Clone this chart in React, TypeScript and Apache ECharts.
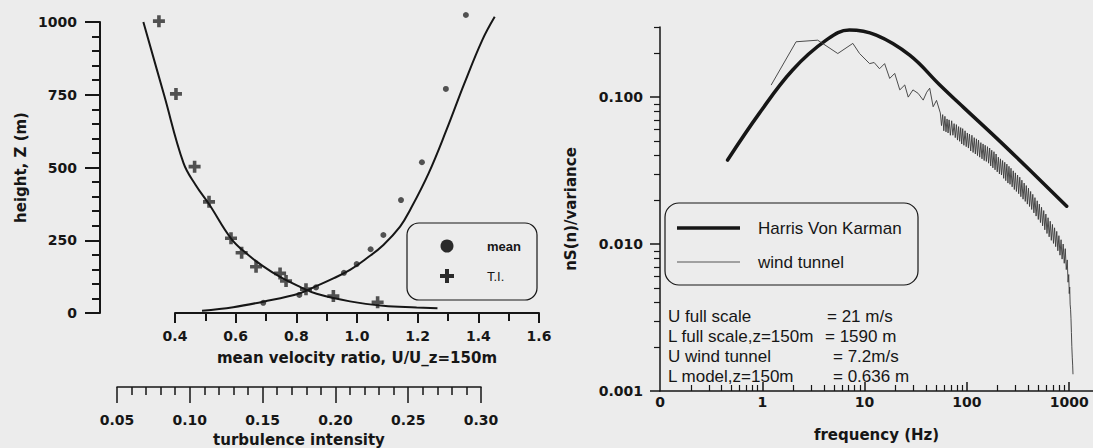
import React, { useEffect, useRef } from 'react';
import * as echarts from 'echarts';

// ---------- Left panel data ----------
// mean velocity ratio measurements (U/U_z=150m) vs height (m)
const meanU = [0.691, 0.81, 0.865, 0.957, 0.999, 1.045, 1.087, 1.145, 1.214, 1.293, 1.359];
const meanZ = [35, 62, 88, 138, 168, 219, 268, 388, 518, 770, 1024];
// turbulence intensity measurements vs height (m)
const tiVal = [0.0788, 0.0905, 0.1033, 0.1132, 0.1283, 0.1356, 0.1455, 0.162, 0.1661, 0.1798, 0.1986, 0.229];
const tiZ = [1003, 753, 503, 382, 257, 207, 159, 136, 110, 82, 58, 37];
// fitted mean velocity profile
const meanFitU = [0.489, 0.592, 0.691, 0.812, 0.867, 0.922, 0.977, 1.032, 1.087, 1.142, 1.175, 1.236, 1.295, 1.354, 1.413, 1.454];
const meanFitZ = [8, 20, 39, 68, 93, 119, 148, 188, 234, 297, 354, 480, 629, 789, 938, 1018];
// fitted turbulence intensity profile
const tiFitT = [0.0681, 0.0823, 0.0957, 0.104, 0.1135, 0.1285, 0.14, 0.15, 0.162, 0.1757, 0.1871, 0.21, 0.2329, 0.2558, 0.2701];
const tiFitZ = [1000, 750, 515, 440, 372, 255, 200, 162, 124, 90, 66, 40, 25, 19, 16];

const heightTicks = [0, 250, 500, 750, 1000];

// ---------- Right panel data ----------
const harrisF = [0.458, 0.934, 1.98, 4.21, 7.1, 13.0, 27.6, 54.4, 92.1, 195, 414, 946];
const harrisV = [0.0373, 0.0775, 0.153, 0.244, 0.286, 0.264, 0.193, 0.121, 0.0855, 0.0526, 0.0318, 0.0181];

const tunnelF = [
  1.22, 2.14, 3.48, 5.47, 7.68, 8.93, 11.2, 12.4, 14.0, 15.7, 17.6, 19.7, 22.1, 24.7, 26.7, 29.7, 33.4, 37.4, 40.5, 43.3, 46.8, 50.5,
  55, 56.5, 58, 59.5, 61, 62.5, 64, 65.5, 67, 69, 71, 73, 75, 77, 79, 81, 83, 85, 87, 89, 91, 93.5, 96, 98.5, 101, 103.5, 106, 109,
  112, 115, 118, 121, 124, 127, 130, 133.5, 137, 140.5, 144, 147.5, 151, 155, 159, 163, 167, 171, 175, 179.5, 184, 188.5, 193, 198,
  203, 208, 213, 218, 223.5, 229, 234.5, 240, 246, 252, 258, 264, 270, 277, 284, 291, 298, 305, 313, 321, 329, 337, 345, 354, 363,
  372, 381, 390, 400, 410, 420, 430, 441, 452, 463, 475, 487, 499, 511, 524, 537, 550, 564, 578, 592, 607, 622, 637, 653, 669, 686,
  703, 720, 738, 756, 775, 794, 813, 833, 853, 874, 895, 916, 937, 958, 975, 990, 1002, 1012, 1022, 1032, 1042, 1052, 1062, 1072,
  1082, 1090,
];
const tunnelV = [
  0.1207, 0.238, 0.244, 0.198, 0.232, 0.198, 0.169, 0.172, 0.156, 0.169, 0.134, 0.145, 0.112, 0.121, 0.1, 0.112, 0.106, 0.0954, 0.108, 0.115, 0.086, 0.095,
  0.078, 0.064, 0.076, 0.059, 0.074, 0.058, 0.071, 0.057, 0.07, 0.055, 0.069, 0.055, 0.066, 0.053, 0.065, 0.051, 0.063, 0.05, 0.062, 0.048, 0.061, 0.047, 0.059, 0.046, 0.057, 0.045, 0.056, 0.043,
  0.055, 0.042, 0.053, 0.041, 0.052, 0.04, 0.051, 0.039, 0.049, 0.038, 0.048, 0.037, 0.047, 0.0365, 0.046, 0.0355, 0.045, 0.034, 0.0435, 0.033, 0.0425, 0.032, 0.041, 0.031,
  0.039, 0.03, 0.038, 0.0295, 0.037, 0.028, 0.036, 0.027, 0.035, 0.026, 0.0338, 0.0255, 0.0328, 0.0245, 0.0315, 0.0235, 0.0305, 0.0228, 0.0295, 0.022, 0.0285, 0.021, 0.0272, 0.0202, 0.026,
  0.0195, 0.025, 0.0187, 0.024, 0.018, 0.0228, 0.0172, 0.0218, 0.0163, 0.0207, 0.0155, 0.0197, 0.0147, 0.0187, 0.014, 0.0178, 0.0133, 0.0169, 0.0125, 0.016, 0.0118, 0.0151, 0.0112, 0.0143, 0.0106, 0.0136,
  0.0101, 0.0129, 0.0096, 0.0122, 0.009, 0.0114, 0.0084, 0.0107, 0.0079, 0.01, 0.0074, 0.0093, 0.0067, 0.0078, 0.0055, 0.0062, 0.0046, 0.0051, 0.0039, 0.0036, 0.0031, 0.0025, 0.002, 0.0017,
  0.0015, 0.0013,
];

const freqMajor = [1, 10, 100, 1000];
const freqLabels = [0.1, 1, 10, 100, 1000];
const freqMinor = [0.2, 0.3, 0.4, 0.5, 0.6, 0.7, 0.8, 0.9, 2, 3, 4, 5, 6, 7, 8, 9, 20, 30, 40, 50, 60, 70, 80, 90, 200, 300, 400, 500, 600, 700, 800, 900];
const specMajor = [0.001, 0.01, 0.1];
const specMinor = [0.002, 0.003, 0.004, 0.005, 0.006, 0.007, 0.008, 0.009, 0.02, 0.03, 0.04, 0.05, 0.06, 0.07, 0.08, 0.09, 0.2, 0.3];

const infoLeft = ['U full scale', 'L full scale,z=150m', 'U wind tunnel', 'L model,z=150m'];
const infoRight = ['= 21 m/s', '= 1590 m', '= 7.2m/s', '= 0.636 m'];

const INK = '#161616';
const BG = '#ececec';
const BOLD = 'DejaVu Sans';
const SANS = 'Liberation Sans';

function zip(a: number[], b: number[]) {
  return a.map((v, i) => [v, b[i]]);
}

export default function App() {
  const ref = useRef<HTMLDivElement>(null);
  useEffect(() => {
    const chart = echarts.init(ref.current!, null, { renderer: 'svg' });

    // layout (pixels)
    const plotL = 100, plotR = 539, plotT = 22, plotB = 313;
    const velL = 175; // x of U=0.4
    const tiL = 117, tiR = 481; // x of TI=0.05 / 0.30
    const velPx = (plotR - velL) / 1.2;
    const velMin = 0.4 - (velL - plotL) / velPx;
    const tiPx = (tiR - tiL) / 0.25;
    const tiMin = 0.05 - (tiL - plotL) / tiPx;
    const tiMax = 0.3 + (plotR - tiR) / tiPx;

    const rL = 660, rT = 27, rB = 391, rW = 433;

    const tickLabel = { fontFamily: BOLD, fontWeight: 'bold' as const, fontSize: 14, color: INK };
    const nameStyle = { fontFamily: BOLD, fontWeight: 'bold' as const, fontSize: 15, color: INK };
    const axLine = (w: number) => ({ show: true, lineStyle: { color: INK, width: w } });

    const option: any = {
      animation: false,
      backgroundColor: BG,
      grid: [
        { left: plotL, top: plotT, width: plotR - plotL, height: plotB - plotT, outerBoundsMode: 'none' },
        { left: velL, top: plotT, width: plotR - velL, height: plotB - plotT, outerBoundsMode: 'none' },
        { left: tiL, top: 300, width: tiR - tiL, height: 87, outerBoundsMode: 'none' },
        { left: rL, top: rT, width: rW, height: rB - rT, outerBoundsMode: 'none' },
      ],
      xAxis: [
        { gridIndex: 0, type: 'value', min: velMin, max: 1.6, show: false, position: 'bottom' },
        { gridIndex: 0, type: 'value', min: tiMin, max: tiMax, show: false, position: 'bottom' },
        {
          gridIndex: 1, type: 'value', min: 0.4, max: 1.6, interval: 0.2, position: 'bottom',
          axisLine: axLine(2),
          axisTick: { show: true, length: 10, lineStyle: { color: INK, width: 2 } },
          minorTick: { show: true, splitNumber: 2, length: 8, lineStyle: { color: INK, width: 2 } },
          splitLine: { show: false }, minorSplitLine: { show: false },
          axisLabel: { ...tickLabel, margin: 16, formatter: (v: number) => v.toFixed(1) },
          name: 'mean velocity ratio, U/U_z=150m', nameLocation: 'middle', nameGap: 37, nameTextStyle: nameStyle,
          nameMoveOverlap: false,
        },
        {
          gridIndex: 2, type: 'value', min: 0.05, max: 0.3, interval: 0.05, position: 'bottom',
          axisLine: axLine(1.5),
          axisTick: { show: true, length: 16, lineStyle: { color: INK, width: 1.5 } },
          minorTick: { show: true, splitNumber: 5, length: 8, lineStyle: { color: INK, width: 1.5 } },
          splitLine: { show: false }, minorSplitLine: { show: false },
          axisLabel: { ...tickLabel, margin: 26, formatter: (v: number) => v.toFixed(2) },
          name: 'turbulence intensity', nameLocation: 'middle', nameGap: 45, nameTextStyle: nameStyle,
          nameMoveOverlap: false,
        },
        {
          gridIndex: 3, type: 'log', logBase: 10, min: 0.1, max: 1710, position: 'bottom',
          axisLine: axLine(1.5),
          axisTick: { show: true, inside: true, length: 9, customValues: freqMajor, lineStyle: { color: INK, width: 1.5 } },
          splitLine: { show: false },
          axisLabel: { ...tickLabel, margin: 4, customValues: freqLabels, formatter: (v: number) => (v < 0.5 ? '0' : String(Math.round(v))) },
          name: 'frequency (Hz)', nameLocation: 'middle', nameGap: 36, nameTextStyle: nameStyle,
          nameMoveOverlap: false,
        },
        {
          gridIndex: 3, type: 'log', logBase: 10, min: 0.1, max: 1710, position: 'bottom',
          axisLine: { show: false },
          axisTick: { show: true, inside: true, length: 6, customValues: freqMinor, lineStyle: { color: INK, width: 1.2 } },
          splitLine: { show: false },
          axisLabel: { show: false },
        },
      ],
      yAxis: [
        {
          gridIndex: 0, type: 'value', min: 0, max: 1000, interval: 250, position: 'left',
          axisLine: axLine(2),
          axisTick: { show: true, length: 15, lineStyle: { color: INK, width: 2 } },
          minorTick: { show: true, splitNumber: 5, length: 8, lineStyle: { color: INK, width: 2 } },
          splitLine: { show: false }, minorSplitLine: { show: false },
          axisLabel: { ...tickLabel, margin: 23, customValues: heightTicks, formatter: (v: number) => String(v) },
          name: 'height, Z (m)', nameLocation: 'middle', nameGap: 72, nameRotate: 90, nameTextStyle: nameStyle,
          nameMoveOverlap: false,
        },
        { gridIndex: 1, type: 'value', min: 0, max: 1000, show: false },
        { gridIndex: 2, type: 'value', min: 0, max: 1, show: false },
        {
          gridIndex: 3, type: 'log', logBase: 10, min: 0.001, max: 0.3, position: 'left',
          axisLine: axLine(1.5),
          axisTick: { show: true, length: 10, customValues: specMajor, lineStyle: { color: INK, width: 1.5 } },
          splitLine: { show: false },
          axisLabel: { ...tickLabel, margin: 17, customValues: specMajor, formatter: (v: number) => v.toFixed(3) },
          name: 'nS(n)/variance', nameLocation: 'middle', nameGap: 82, nameRotate: 90, nameTextStyle: nameStyle,
          nameMoveOverlap: false,
        },
        {
          gridIndex: 3, type: 'log', logBase: 10, min: 0.001, max: 0.3, position: 'left',
          axisLine: { show: false },
          axisTick: { show: true, length: 6, customValues: specMinor, lineStyle: { color: INK, width: 1.2 } },
          splitLine: { show: false },
          axisLabel: { show: false },
        },
      ],
      series: [
        {
          name: 'mean fit', type: 'line', xAxisIndex: 0, yAxisIndex: 0, data: zip(meanFitU, meanFitZ),
          smooth: 0.4, showSymbol: false, clip: false, lineStyle: { color: INK, width: 2 },
        },
        {
          name: 'TI fit', type: 'line', xAxisIndex: 1, yAxisIndex: 0, data: zip(tiFitT, tiFitZ),
          smooth: 0.4, showSymbol: false, clip: false, lineStyle: { color: INK, width: 2 },
        },
        {
          name: 'mean', type: 'scatter', xAxisIndex: 0, yAxisIndex: 0, data: zip(meanU, meanZ),
          symbol: 'circle', symbolSize: 6, clip: false, itemStyle: { color: '#2a2a2a' },
        },
        {
          name: 'T.I.', type: 'scatter', xAxisIndex: 1, yAxisIndex: 0, data: zip(tiVal, tiZ),
          symbol: 'path://M3.5,0H6.5V3.5H10V6.5H6.5V10H3.5V6.5H0V3.5H3.5Z', symbolSize: 12, clip: false,
          itemStyle: { color: '#2a2a2a' },
        },
        {
          name: 'Harris Von Karman', type: 'line', xAxisIndex: 4, yAxisIndex: 3, data: zip(harrisF, harrisV),
          smooth: 0.4, showSymbol: false, clip: false, lineStyle: { color: INK, width: 3.5, cap: 'round' },
        },
        {
          name: 'wind tunnel', type: 'line', xAxisIndex: 4, yAxisIndex: 3, data: zip(tunnelF, tunnelV),
          smooth: false, showSymbol: false, clip: false, lineStyle: { color: '#3a3a3a', width: 0.9 },
        },
      ],
      graphic: [
        // left legend
        { type: 'rect', shape: { x: 407, y: 223, width: 130, height: 77, r: 12 }, style: { fill: 'none', stroke: INK, lineWidth: 1.2 } },
        { type: 'circle', shape: { cx: 447, cy: 246, r: 6.5 }, style: { fill: '#2a2a2a' } },
        { type: 'rect', shape: { x: 440, y: 274, width: 14, height: 4 }, style: { fill: '#2a2a2a' } },
        { type: 'rect', shape: { x: 445, y: 269, width: 4, height: 14 }, style: { fill: '#2a2a2a' } },
        { type: 'text', x: 487, y: 246, style: { text: 'mean', font: `bold 13px "${SANS}"`, fill: INK, verticalAlign: 'middle' } },
        { type: 'text', x: 487, y: 276, style: { text: 'T.I.', font: `13px "${SANS}"`, fill: INK, verticalAlign: 'middle' } },
        // right legend
        { type: 'rect', shape: { x: 665, y: 203, width: 253, height: 82, r: 14 }, style: { fill: 'none', stroke: INK, lineWidth: 1.2 } },
        { type: 'line', shape: { x1: 677, y1: 228, x2: 740, y2: 228 }, style: { stroke: INK, lineWidth: 3.5 } },
        { type: 'line', shape: { x1: 677, y1: 262, x2: 740, y2: 262 }, style: { stroke: '#555', lineWidth: 1 } },
        { type: 'text', x: 758, y: 228, style: { text: 'Harris Von Karman', font: `17px "${SANS}"`, fill: INK, verticalAlign: 'middle' } },
        { type: 'text', x: 758, y: 262, style: { text: 'wind tunnel', font: `17px "${SANS}"`, fill: INK, verticalAlign: 'middle' } },
        // info block
        ...infoLeft.map((t, i) => ({
          type: 'text', x: 668, y: 316 + i * 20,
          style: { text: t, font: `17px "${SANS}"`, fill: INK, verticalAlign: 'middle' },
        })),
        ...infoRight.map((t, i) => ({
          type: 'text', x: [827, 825, 833, 833][i], y: 316 + i * 20,
          style: { text: t, font: `17px "${SANS}"`, fill: INK, verticalAlign: 'middle' },
        })),
      ],
    };

    chart.setOption(option);
    return () => chart.dispose();
  }, []);

  return (
    <div
      ref={ref}
      style={{ position: 'absolute', left: 0, top: 0, width: 1093, height: 448, background: BG }}
    />
  );
}
